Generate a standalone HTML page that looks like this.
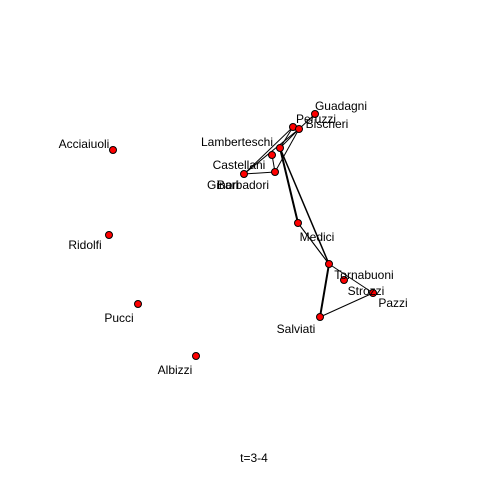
<!DOCTYPE html>
<html><head><meta charset="utf-8"><style>
html,body{margin:0;padding:0;background:#fff}
svg{display:block}
text{font-family:"Liberation Sans",sans-serif;font-size:12px;fill:#000}
</style></head><body>
<svg id="net" width="480" height="480" viewBox="0 0 480 480" xmlns="http://www.w3.org/2000/svg">
<rect width="480" height="480" fill="#fff"/>
<g id="edges"></g>
<g id="nodes"></g>
<g id="labels"></g>
<text x="254" y="462" text-anchor="middle">t=3-4</text>
</svg>
<script>
const names = ["Acciaiuoli","Ridolfi","Pucci","Albizzi","Guadagni","Peruzzi","Bischeri","Lamberteschi","Castellani","Ginori","Barbadori","Medici","Tornabuoni","Strozzi","Pazzi","Salviati"];
const nodeX = [113,109,138,196,315,293,299,280,272,244,275,298,329,344,373,320];
const nodeY = [150,235,304,356,114,127,129,148,155,174,172,223,264,280,293,317];
const labelDX = [-29,-24,-19,-21,26,23,28,-43,-33,-21,-32,19,35,22,20,-24];
const labelDY = [-3,13,17,17,-5,-5,-2,-3,13,14,16,17,14,14,13,15];
const edgeFrom = [5,6,5,5,6,6,7,7,8,9,11,12,12,12,4,15];
const edgeTo   = [6,9,9,7,7,10,11,12,10,10,12,15,14,11,6,14];
const edgeW    = [1,1,1,1,1,1,2,1.5,1,1,1,2,1,1,1,1];
const ns="http://www.w3.org/2000/svg";
const eg=document.getElementById('edges'),ng=document.getElementById('nodes'),lg=document.getElementById('labels');
for(let i=0;i<edgeFrom.length;i++){
  const l=document.createElementNS(ns,'line');
  l.setAttribute('x1',nodeX[edgeFrom[i]]);l.setAttribute('y1',nodeY[edgeFrom[i]]);
  l.setAttribute('x2',nodeX[edgeTo[i]]);l.setAttribute('y2',nodeY[edgeTo[i]]);
  l.setAttribute('stroke','#000');l.setAttribute('stroke-width',edgeW[i]);
  
  
  eg.appendChild(l);
}
for(let i=0;i<names.length;i++){
  const c=document.createElementNS(ns,'circle');
  c.setAttribute('cx',nodeX[i]);c.setAttribute('cy',nodeY[i]);c.setAttribute('r',3.5);
  c.setAttribute('fill','#ff0000');c.setAttribute('stroke','#000');c.setAttribute('stroke-width',1);
  
  
  ng.appendChild(c);
  const t=document.createElementNS(ns,'text');
  t.setAttribute('x',nodeX[i]+labelDX[i]);t.setAttribute('y',nodeY[i]+labelDY[i]+1);
  t.setAttribute('text-anchor','middle');t.textContent=names[i];
  
  
  lg.appendChild(t);
}
</script>
</body></html>
